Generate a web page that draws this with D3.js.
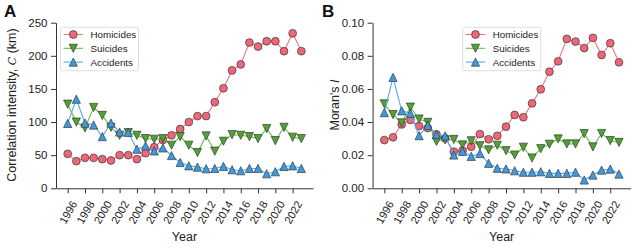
<!DOCTYPE html>
<html>
<head>
<meta charset="utf-8">
<script src="https://cdn.jsdelivr.net/npm/d3@7"></script>
<style>
  html, body { margin: 0; padding: 0; background: #fff; }
  svg { display: block; font-family: "Liberation Sans", Arial, Helvetica, sans-serif; }
</style>
</head>
<body>
<svg id="chart" width="634" height="251"></svg>
<script>
// ---------- data ----------
const years = d3.range(1996, 2024);
const xTickYears = d3.range(1996, 2023, 2);

const homicidesC = [52, 41, 46, 46, 44, 42, 50, 50, 44, 53, 62, 73, 80, 89.5, 100, 109, 109, 130, 151, 178, 187, 220, 214, 222, 222, 207, 234, 207];
const suicidesC  = [127, 100, 91, 122, 110, 92, 80, 84, 80, 75, 74, 75, 65, 78, 65, 54, 79, 56, 71, 81, 80, 78, 75, 90, 72, 92, 77, 75];
const accidentsC = [98, 134.5, 98.5, 95.5, 78, 98.5, 85, 84.5, 59, 64, 56.5, 61, 49.5, 39, 34, 32, 29.5, 30, 33, 28, 26.5, 30, 30, 22, 25, 33, 34, 30];

const homicidesI = [0.0291, 0.0308, 0.0386, 0.0413, 0.0376, 0.0364, 0.0326, 0.0302, 0.0221, 0.0228, 0.0251, 0.0327, 0.0296, 0.0317, 0.0372, 0.0443, 0.0429, 0.0513, 0.0598, 0.0704, 0.0767, 0.0902, 0.0886, 0.0847, 0.0908, 0.0805, 0.0876, 0.0761];
const suicidesI  = [0.0510, 0.0445, 0.0395, 0.0490, 0.0418, 0.0398, 0.0283, 0.0292, 0.0295, 0.0262, 0.0287, 0.0257, 0.0232, 0.0260, 0.0227, 0.0201, 0.0248, 0.0183, 0.0239, 0.0266, 0.0298, 0.0268, 0.0268, 0.0330, 0.0250, 0.0331, 0.0288, 0.0277];
const accidentsI = [0.0457, 0.0670, 0.0468, 0.0453, 0.0318, 0.0380, 0.0325, 0.0317, 0.0201, 0.0223, 0.0193, 0.0210, 0.0151, 0.0121, 0.0117, 0.0106, 0.0097, 0.0097, 0.0100, 0.0090, 0.0090, 0.0090, 0.0097, 0.0050, 0.0080, 0.0110, 0.0116, 0.0086];

const yTicksC = [0, 50, 100, 150, 200, 250];
const yTicksI = [0, 0.02, 0.04, 0.06, 0.08, 0.10];
const seriesNames = ["Homicides", "Suicides", "Accidents"];

// ---------- styles ----------
const styles = {
  Homicides: { fill: "#EE6677", line: "#F07585", marker: "circle" },
  Suicides:  { fill: "#4DA431", line: "#6DBB4F", marker: "down" },
  Accidents: { fill: "#3C9BE0", line: "#56ABEC", marker: "up" }
};
const edge = "#3a3a3a";

const svg = d3.select("#chart");
const textColor = "#222";

function markerPath(type, s) {
  if (type === "up") return `M0,${-s}L${-s},${s}L${s},${s}Z`;
  return `M0,${s}L${-s},${-s}L${s},${-s}Z`;
}

function drawMarker(g, type, x, y, color) {
  if (type === "circle") {
    g.append("circle").attr("cx", x).attr("cy", y).attr("r", 3.9)
      .attr("fill", color).attr("stroke", edge).attr("stroke-width", 0.7);
  } else {
    g.append("path").attr("d", markerPath(type, 4.1))
      .attr("transform", `translate(${x},${y})`)
      .attr("fill", color).attr("stroke", edge).attr("stroke-width", 0.7)
      .attr("stroke-linejoin", "miter");
  }
}

function panel(cfg) {
  const x = d3.scaleLinear().domain([1994.65, 2024.35]).range(cfg.xRange);
  const y = d3.scaleLinear().domain(cfg.yDomain).range([188.3, 22.7]);
  const g = svg.append("g");

  // series
  cfg.series.forEach((vals, i) => {
    const st = styles[seriesNames[i]];
    const line = d3.line().x((d, j) => x(years[j])).y(d => y(d));
    g.append("path").datum(vals).attr("d", line)
      .attr("fill", "none").attr("stroke", st.line).attr("stroke-width", 1.1);
    vals.forEach((v, j) => drawMarker(g, st.marker, x(years[j]), y(v), st.fill));
  });

  // y axis
  const yAxis = d3.axisLeft(y).tickValues(cfg.yTicks).tickFormat(cfg.yFormat)
    .tickSizeInner(5).tickSizeOuter(0).tickPadding(3.5);
  const ya = g.append("g").attr("transform", `translate(${cfg.xRange[0]},0)`).call(yAxis);
  ya.select(".domain").attr("stroke", "#333").attr("stroke-width", 1);
  ya.selectAll(".tick line").attr("stroke", "#333").attr("stroke-width", 1);
  ya.selectAll(".tick text").attr("fill", textColor).style("font-size", "11.5px");

  // x axis
  const xAxis = d3.axisBottom(x).tickValues(xTickYears).tickFormat(d3.format("d"))
    .tickSizeInner(5).tickSizeOuter(0);
  const xa = g.append("g").attr("transform", `translate(0,188.3)`).call(xAxis);
  xa.select(".domain").attr("stroke", "#333").attr("stroke-width", 1);
  xa.selectAll(".tick line").attr("stroke", "#333").attr("stroke-width", 1);
  xa.selectAll(".tick text")
    .attr("fill", textColor).style("font-size", "11px")
    .attr("text-anchor", "middle").attr("dy", "0.35em").attr("y", 0)
    .attr("transform", "translate(0,24) rotate(-60)");

  // axis titles
  g.append("text").attr("x", (cfg.xRange[0] + cfg.xRange[1]) / 2).attr("y", 241)
    .attr("text-anchor", "middle").attr("fill", textColor).style("font-size", "12.5px")
    .text("Year");
  const yt = g.append("text")
    .attr("transform", `translate(${cfg.yTitleX},105) rotate(-90)`)
    .attr("text-anchor", "middle").attr("fill", textColor).style("font-size", "12.5px");
  cfg.yTitle(yt);

  // panel letter
  g.append("text").attr("x", cfg.letterX).attr("y", 17).attr("fill", "#111")
    .style("font-size", "17px").style("font-weight", "bold").text(cfg.letter);

  // legend
  const L = cfg.legend;
  const lg = g.append("g");
  lg.append("rect").attr("x", L.x).attr("y", 27.3).attr("width", 78).attr("height", 43.4)
    .attr("rx", 2).attr("fill", "#fff").attr("fill-opacity", 0.85)
    .attr("stroke", "#d6d6d6").attr("stroke-width", 0.8);
  seriesNames.forEach((name, i) => {
    const st = styles[name];
    const ry = 34.5 + i * 13.8;
    lg.append("line").attr("x1", L.x + 3).attr("x2", L.x + 22.5)
      .attr("y1", ry).attr("y2", ry).attr("stroke", st.line).attr("stroke-width", 1.1);
    drawMarker(lg, st.marker, L.x + 12.8, ry, st.fill);
    lg.append("text").attr("x", L.x + 30).attr("y", ry).attr("dy", "0.35em")
      .attr("fill", textColor).style("font-size", "9.8px").text(name);
  });
}

panel({
  xRange: [56, 313],
  yDomain: [0, 250],
  yTicks: yTicksC,
  yFormat: d3.format("d"),
  series: [homicidesC, suicidesC, accidentsC],
  yTitleX: 16,
  yTitle: t => {
    t.append("tspan").text("Correlation intensity, ");
    t.append("tspan").style("font-style", "italic").style("font-family", "'DejaVu Serif', serif").style("font-size", "11px").text("C");
    t.append("tspan").text(" (km)");
  },
  letter: "A",
  letterX: 4,
  legend: { x: 60.5 }
});

panel({
  xRange: [372.6, 630.7],
  yDomain: [0, 0.10],
  yTicks: yTicksI,
  yFormat: d3.format(".2f"),
  series: [homicidesI, suicidesI, accidentsI],
  yTitleX: 339,
  yTitle: t => {
    t.append("tspan").text("Moran's ");
    t.append("tspan").style("font-style", "italic").text("I");
  },
  letter: "B",
  letterX: 322,
  legend: { x: 462.7 }
});
</script>
</body>
</html>
